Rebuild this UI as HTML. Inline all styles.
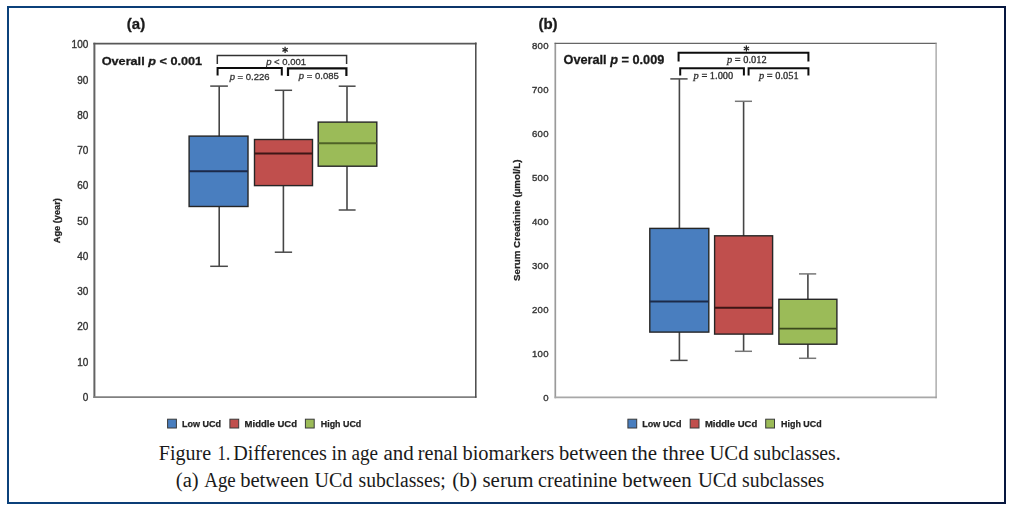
<!DOCTYPE html>
<html>
<head>
<meta charset="utf-8">
<title>Figure 1</title>
<style>
html, body { margin: 0; padding: 0; background: #ffffff; }
body { width: 1015px; height: 511px; position: relative; overflow: hidden; font-family: "Liberation Sans", sans-serif; }
#frame {
  position: absolute; left: 7px; top: 6px; width: 995px; height: 494px;
  border: 2px solid #0e3a74;
  border-image: linear-gradient(to right, #0b417b 0%, #0c3468 50%, #07173f 100%) 1;
}
#charts { position: absolute; left: 0; top: 0; }
</style>
</head>
<body>
<div id="frame"></div>
<svg id="charts" width="1015" height="511" viewBox="0 0 1015 511">
<defs><filter id="soft" x="-2%" y="-2%" width="104%" height="104%"><feGaussianBlur stdDeviation="0.45"/></filter></defs>
<g filter="url(#soft)">
<!-- chart a frame -->
<line x1="94.4" y1="42.7" x2="94.4" y2="398" stroke="#646464" stroke-width="2"/>
<line x1="93.4" y1="397.1" x2="476.5" y2="397.1" stroke="#808080" stroke-width="1.8"/>
<line x1="93.4" y1="43.6" x2="476.5" y2="43.6" stroke="#585858" stroke-width="1.8"/>
<line x1="475.8" y1="42.6" x2="475.8" y2="397.8" stroke="#4a4a4a" stroke-width="1.5"/>
<text x="88.3" y="400.9" text-anchor="end" font-family='"Liberation Sans", sans-serif' font-size="10" letter-spacing="0" fill="#333" stroke="#333" stroke-width="0.35">0</text>
<text x="88.3" y="365.6" text-anchor="end" font-family='"Liberation Sans", sans-serif' font-size="10" letter-spacing="0" fill="#333" stroke="#333" stroke-width="0.35">10</text>
<text x="88.3" y="330.4" text-anchor="end" font-family='"Liberation Sans", sans-serif' font-size="10" letter-spacing="0" fill="#333" stroke="#333" stroke-width="0.35">20</text>
<text x="88.3" y="295.1" text-anchor="end" font-family='"Liberation Sans", sans-serif' font-size="10" letter-spacing="0" fill="#333" stroke="#333" stroke-width="0.35">30</text>
<text x="88.3" y="259.9" text-anchor="end" font-family='"Liberation Sans", sans-serif' font-size="10" letter-spacing="0" fill="#333" stroke="#333" stroke-width="0.35">40</text>
<text x="88.3" y="224.6" text-anchor="end" font-family='"Liberation Sans", sans-serif' font-size="10" letter-spacing="0" fill="#333" stroke="#333" stroke-width="0.35">50</text>
<text x="88.3" y="189.3" text-anchor="end" font-family='"Liberation Sans", sans-serif' font-size="10" letter-spacing="0" fill="#333" stroke="#333" stroke-width="0.35">60</text>
<text x="88.3" y="154.1" text-anchor="end" font-family='"Liberation Sans", sans-serif' font-size="10" letter-spacing="0" fill="#333" stroke="#333" stroke-width="0.35">70</text>
<text x="88.3" y="118.8" text-anchor="end" font-family='"Liberation Sans", sans-serif' font-size="10" letter-spacing="0" fill="#333" stroke="#333" stroke-width="0.35">80</text>
<text x="88.3" y="83.6" text-anchor="end" font-family='"Liberation Sans", sans-serif' font-size="10" letter-spacing="0" fill="#333" stroke="#333" stroke-width="0.35">90</text>
<text x="88.3" y="48.3" text-anchor="end" font-family='"Liberation Sans", sans-serif' font-size="10" letter-spacing="0" fill="#333" stroke="#333" stroke-width="0.35">100</text>
<text transform="translate(59.5 220.7) rotate(-90)" text-anchor="middle" font-family='"Liberation Sans", sans-serif' font-size="9.2" font-weight="bold" fill="#222" stroke="#222" stroke-width="0.25">Age (year)</text>
<text x="126.8" y="28.8" font-family='"Liberation Sans", sans-serif' font-size="15" font-weight="bold" fill="#1a1a1a" stroke="#1a1a1a" stroke-width="0.3">(a)</text>
<text x="101.7" y="64.8" font-family='"Liberation Sans", sans-serif' font-size="11.8" font-weight="bold" fill="#1a1a1a" stroke="#1a1a1a" stroke-width="0.3" textLength="100.4" lengthAdjust="spacingAndGlyphs">Overall <tspan font-style="italic">p</tspan> &lt; 0.001</text>
<line x1="219.2" y1="86.1" x2="219.2" y2="266.3" stroke="#444" stroke-width="1.6"/>
<line x1="210.2" y1="86.1" x2="227.9" y2="86.1" stroke="#4a4a4a" stroke-width="1.5"/>
<line x1="210.2" y1="266.3" x2="227.9" y2="266.3" stroke="#4a4a4a" stroke-width="1.5"/>
<rect x="189.1" y="136.1" width="58.90" height="70.40" fill="#4a7ebf" stroke="#262626" stroke-width="1.4"/>
<line x1="189.1" y1="171.2" x2="248.0" y2="171.2" stroke="#1c2a4a" stroke-width="1.9"/>
<line x1="283.4" y1="90.3" x2="283.4" y2="252.2" stroke="#444" stroke-width="1.6"/>
<line x1="274.8" y1="90.3" x2="292.1" y2="90.3" stroke="#4a4a4a" stroke-width="1.5"/>
<line x1="274.8" y1="252.2" x2="292.1" y2="252.2" stroke="#4a4a4a" stroke-width="1.5"/>
<rect x="254.5" y="139.5" width="58.00" height="46.10" fill="#c0504d" stroke="#262626" stroke-width="1.4"/>
<line x1="254.5" y1="153.5" x2="312.5" y2="153.5" stroke="#3d1414" stroke-width="1.9"/>
<line x1="347.0" y1="86.2" x2="347.0" y2="210.0" stroke="#444" stroke-width="1.6"/>
<line x1="338.7" y1="86.2" x2="355.6" y2="86.2" stroke="#4a4a4a" stroke-width="1.5"/>
<line x1="338.7" y1="210.0" x2="355.6" y2="210.0" stroke="#4a4a4a" stroke-width="1.5"/>
<rect x="318.2" y="122.1" width="58.60" height="44.10" fill="#9bbb59" stroke="#262626" stroke-width="1.4"/>
<line x1="318.2" y1="143.2" x2="376.8" y2="143.2" stroke="#4f6228" stroke-width="1.9"/>
<path d="M217.3 64.0 V55.6 H346.6 V64.0" fill="none" stroke="#333" stroke-width="1.5" stroke-linejoin="miter"/>
<path d="M217.6 75.6 V68.0 H281.8 V75.6" fill="none" stroke="#111" stroke-width="2" stroke-linejoin="miter"/>
<path d="M288.0 76.0 V68.4 H346.4 V76.0" fill="none" stroke="#111" stroke-width="2.2" stroke-linejoin="miter"/>
<line x1="285.10" y1="46.70" x2="285.10" y2="52.90" stroke="#222" stroke-width="1.25"/>
<line x1="282.42" y1="48.25" x2="287.78" y2="51.35" stroke="#222" stroke-width="1.25"/>
<line x1="287.78" y1="48.25" x2="282.42" y2="51.35" stroke="#222" stroke-width="1.25"/>
<text x="286.1" y="65.4" text-anchor="middle" font-family='"Liberation Sans", sans-serif' font-size="9.5" fill="#333" stroke="#333" stroke-width="0.3"><tspan font-style="italic">p</tspan> &lt; 0.001</text>
<text x="249.6" y="79.9" text-anchor="middle" font-family='"Liberation Sans", sans-serif' font-size="9.5" fill="#333" stroke="#333" stroke-width="0.3"><tspan font-style="italic">p</tspan> = 0.226</text>
<text x="318.8" y="79.2" text-anchor="middle" font-family='"Liberation Sans", sans-serif' font-size="9.5" fill="#333" stroke="#333" stroke-width="0.3"><tspan font-style="italic">p</tspan> = 0.085</text>
<rect x="167.6" y="419.2" width="8.8" height="8.8" fill="#4a7ebf" stroke="#3a3a3a" stroke-width="1"/>
<text x="182.0" y="427.1" font-family='"Liberation Sans", sans-serif' font-size="9.2" font-weight="bold" fill="#222" stroke="#222" stroke-width="0.25" textLength="39.1" lengthAdjust="spacingAndGlyphs">Low UCd</text>
<rect x="229.9" y="419.2" width="8.8" height="8.8" fill="#c0504d" stroke="#3a3a3a" stroke-width="1"/>
<text x="244.6" y="427.1" font-family='"Liberation Sans", sans-serif' font-size="9.2" font-weight="bold" fill="#222" stroke="#222" stroke-width="0.25" textLength="52.4" lengthAdjust="spacingAndGlyphs">Middle UCd</text>
<rect x="305.4" y="419.2" width="8.8" height="8.8" fill="#9bbb59" stroke="#3a3a3a" stroke-width="1"/>
<text x="320.8" y="427.1" font-family='"Liberation Sans", sans-serif' font-size="9.2" font-weight="bold" fill="#222" stroke="#222" stroke-width="0.25" textLength="40.5" lengthAdjust="spacingAndGlyphs">High UCd</text>
<!-- chart b frame -->
<line x1="555.3" y1="42.8" x2="555.3" y2="398.2" stroke="#9a9a9a" stroke-width="1.7"/>
<line x1="554.6" y1="397.4" x2="936.6" y2="397.4" stroke="#a8a8a8" stroke-width="1.8"/>
<line x1="554.6" y1="43.4" x2="936.6" y2="43.4" stroke="#666" stroke-width="1.2"/>
<line x1="936.1" y1="42.8" x2="936.1" y2="398.2" stroke="#999" stroke-width="1.2"/>
<text x="548.7" y="400.8" text-anchor="end" font-family='"Liberation Sans", sans-serif' font-size="9.6" letter-spacing="0.2" fill="#333" stroke="#333" stroke-width="0.35">0</text>
<text x="548.7" y="356.8" text-anchor="end" font-family='"Liberation Sans", sans-serif' font-size="9.6" letter-spacing="0.2" fill="#333" stroke="#333" stroke-width="0.35">100</text>
<text x="548.7" y="312.8" text-anchor="end" font-family='"Liberation Sans", sans-serif' font-size="9.6" letter-spacing="0.2" fill="#333" stroke="#333" stroke-width="0.35">200</text>
<text x="548.7" y="268.8" text-anchor="end" font-family='"Liberation Sans", sans-serif' font-size="9.6" letter-spacing="0.2" fill="#333" stroke="#333" stroke-width="0.35">300</text>
<text x="548.7" y="224.8" text-anchor="end" font-family='"Liberation Sans", sans-serif' font-size="9.6" letter-spacing="0.2" fill="#333" stroke="#333" stroke-width="0.35">400</text>
<text x="548.7" y="180.8" text-anchor="end" font-family='"Liberation Sans", sans-serif' font-size="9.6" letter-spacing="0.2" fill="#333" stroke="#333" stroke-width="0.35">500</text>
<text x="548.7" y="136.8" text-anchor="end" font-family='"Liberation Sans", sans-serif' font-size="9.6" letter-spacing="0.2" fill="#333" stroke="#333" stroke-width="0.35">600</text>
<text x="548.7" y="92.8" text-anchor="end" font-family='"Liberation Sans", sans-serif' font-size="9.6" letter-spacing="0.2" fill="#333" stroke="#333" stroke-width="0.35">700</text>
<text x="548.7" y="48.8" text-anchor="end" font-family='"Liberation Sans", sans-serif' font-size="9.6" letter-spacing="0.2" fill="#333" stroke="#333" stroke-width="0.35">800</text>
<text transform="translate(520.3 220.2) rotate(-90)" text-anchor="middle" font-family='"Liberation Sans", sans-serif' font-size="9.4" font-weight="bold" fill="#222" stroke="#222" stroke-width="0.25" textLength="121.4" lengthAdjust="spacingAndGlyphs">Serum Creatinine (µmol/L)</text>
<text x="538.4" y="28.9" font-family='"Liberation Sans", sans-serif' font-size="15" font-weight="bold" fill="#1a1a1a" stroke="#1a1a1a" stroke-width="0.3">(b)</text>
<text x="563.5" y="63.6" font-family='"Liberation Sans", sans-serif' font-size="13" font-weight="bold" fill="#1a1a1a" stroke="#1a1a1a" stroke-width="0.3" textLength="100.8" lengthAdjust="spacingAndGlyphs">Overall <tspan font-style="italic">p</tspan> = 0.009</text>
<line x1="679.4" y1="78.9" x2="679.4" y2="360.4" stroke="#444" stroke-width="1.6"/>
<line x1="670.3" y1="78.9" x2="687.6" y2="78.9" stroke="#4a4a4a" stroke-width="1.5"/>
<line x1="670.3" y1="360.4" x2="687.6" y2="360.4" stroke="#4a4a4a" stroke-width="1.5"/>
<rect x="649.8" y="228.4" width="59.00" height="103.70" fill="#4a7ebf" stroke="#262626" stroke-width="1.4"/>
<line x1="649.8" y1="301.5" x2="708.8" y2="301.5" stroke="#1c2a4a" stroke-width="1.9"/>
<line x1="743.6" y1="101.3" x2="743.6" y2="351.3" stroke="#444" stroke-width="1.6"/>
<line x1="734.9" y1="101.3" x2="752.0" y2="101.3" stroke="#777" stroke-width="1.5"/>
<line x1="734.9" y1="351.3" x2="752.0" y2="351.3" stroke="#777" stroke-width="1.5"/>
<rect x="714.6" y="235.8" width="58.00" height="98.30" fill="#c0504d" stroke="#262626" stroke-width="1.4"/>
<line x1="714.6" y1="307.7" x2="772.6" y2="307.7" stroke="#3d1414" stroke-width="1.9"/>
<line x1="807.9" y1="273.9" x2="807.9" y2="358.3" stroke="#444" stroke-width="1.6"/>
<line x1="799.0" y1="273.9" x2="816.2" y2="273.9" stroke="#777" stroke-width="1.5"/>
<line x1="799.0" y1="358.3" x2="816.2" y2="358.3" stroke="#777" stroke-width="1.5"/>
<rect x="778.9" y="299.3" width="58.00" height="44.90" fill="#9bbb59" stroke="#262626" stroke-width="1.4"/>
<line x1="778.9" y1="328.6" x2="836.9" y2="328.6" stroke="#3b4a1e" stroke-width="1.9"/>
<path d="M678.6 61.5 V52.8 H808.4 V61.5" fill="none" stroke="#111" stroke-width="2" stroke-linejoin="miter"/>
<path d="M680.2 75.6 V68.3 H743.9 V75.6" fill="none" stroke="#111" stroke-width="2" stroke-linejoin="miter"/>
<path d="M748.6 75.6 V68.3 H808.4 V75.6" fill="none" stroke="#111" stroke-width="2" stroke-linejoin="miter"/>
<line x1="746.40" y1="45.40" x2="746.40" y2="51.60" stroke="#222" stroke-width="1.25"/>
<line x1="743.72" y1="46.95" x2="749.08" y2="50.05" stroke="#222" stroke-width="1.25"/>
<line x1="749.08" y1="46.95" x2="743.72" y2="50.05" stroke="#222" stroke-width="1.25"/>
<text x="746.8" y="62.6" text-anchor="middle" font-family='"Liberation Serif", serif' font-size="10.4" fill="#2e2e2e" stroke="#2e2e2e" stroke-width="0.3"><tspan font-style="italic">p</tspan> = 0.012</text>
<text x="713.4" y="78.7" text-anchor="middle" font-family='"Liberation Serif", serif' font-size="10.4" fill="#2e2e2e" stroke="#2e2e2e" stroke-width="0.3"><tspan font-style="italic">p</tspan> = 1.000</text>
<text x="778.8" y="78.7" text-anchor="middle" font-family='"Liberation Serif", serif' font-size="10.4" fill="#2e2e2e" stroke="#2e2e2e" stroke-width="0.3"><tspan font-style="italic">p</tspan> = 0.051</text>
<rect x="627.9" y="419.2" width="8.8" height="8.8" fill="#4a7ebf" stroke="#3a3a3a" stroke-width="1"/>
<text x="642.3" y="427.1" font-family='"Liberation Sans", sans-serif' font-size="9.2" font-weight="bold" fill="#222" stroke="#222" stroke-width="0.25" textLength="39.1" lengthAdjust="spacingAndGlyphs">Low UCd</text>
<rect x="690.2" y="419.2" width="8.8" height="8.8" fill="#c0504d" stroke="#3a3a3a" stroke-width="1"/>
<text x="704.9" y="427.1" font-family='"Liberation Sans", sans-serif' font-size="9.2" font-weight="bold" fill="#222" stroke="#222" stroke-width="0.25" textLength="52.4" lengthAdjust="spacingAndGlyphs">Middle UCd</text>
<rect x="765.7" y="419.2" width="8.8" height="8.8" fill="#9bbb59" stroke="#3a3a3a" stroke-width="1"/>
<text x="781.1" y="427.1" font-family='"Liberation Sans", sans-serif' font-size="9.2" font-weight="bold" fill="#222" stroke="#222" stroke-width="0.25" textLength="40.5" lengthAdjust="spacingAndGlyphs">High UCd</text>
</g>
<text x="158.8" y="459.8" font-family='"Liberation Serif", serif' font-size="20.5" fill="#1a1a1a" textLength="52.3" lengthAdjust="spacingAndGlyphs">Figure</text>
<text x="217.5" y="459.8" font-family='"Liberation Serif", serif' font-size="20.5" fill="#1a1a1a" textLength="12.6" lengthAdjust="spacingAndGlyphs">1.</text>
<text x="233.3" y="459.8" font-family='"Liberation Serif", serif' font-size="20.5" fill="#1a1a1a" textLength="93.6" lengthAdjust="spacingAndGlyphs">Differences</text>
<text x="331.5" y="459.8" font-family='"Liberation Serif", serif' font-size="20.5" fill="#1a1a1a" textLength="15.4" lengthAdjust="spacingAndGlyphs">in</text>
<text x="351.4" y="459.8" font-family='"Liberation Serif", serif' font-size="20.5" fill="#1a1a1a" textLength="26.6" lengthAdjust="spacingAndGlyphs">age</text>
<text x="383.5" y="459.8" font-family='"Liberation Serif", serif' font-size="20.5" fill="#1a1a1a" textLength="30.4" lengthAdjust="spacingAndGlyphs">and</text>
<text x="417.8" y="459.8" font-family='"Liberation Serif", serif' font-size="20.5" fill="#1a1a1a" textLength="40.4" lengthAdjust="spacingAndGlyphs">renal</text>
<text x="462.5" y="459.8" font-family='"Liberation Serif", serif' font-size="20.5" fill="#1a1a1a" textLength="91.8" lengthAdjust="spacingAndGlyphs">biomarkers</text>
<text x="559.1" y="459.8" font-family='"Liberation Serif", serif' font-size="20.5" fill="#1a1a1a" textLength="68.4" lengthAdjust="spacingAndGlyphs">between</text>
<text x="631.5" y="459.8" font-family='"Liberation Serif", serif' font-size="20.5" fill="#1a1a1a" textLength="25.6" lengthAdjust="spacingAndGlyphs">the</text>
<text x="662.5" y="459.8" font-family='"Liberation Serif", serif' font-size="20.5" fill="#1a1a1a" textLength="42.0" lengthAdjust="spacingAndGlyphs">three</text>
<text x="709.4" y="459.8" font-family='"Liberation Serif", serif' font-size="20.5" fill="#1a1a1a" textLength="39.1" lengthAdjust="spacingAndGlyphs">UCd</text>
<text x="753.6" y="459.8" font-family='"Liberation Serif", serif' font-size="20.5" fill="#1a1a1a" textLength="87.1" lengthAdjust="spacingAndGlyphs">subclasses.</text>
<text x="175.8" y="487.4" font-family='"Liberation Serif", serif' font-size="20.5" fill="#1a1a1a" textLength="22.9" lengthAdjust="spacingAndGlyphs">(a)</text>
<text x="204.2" y="487.4" font-family='"Liberation Serif", serif' font-size="20.5" fill="#1a1a1a" textLength="31.6" lengthAdjust="spacingAndGlyphs">Age</text>
<text x="240.2" y="487.4" font-family='"Liberation Serif", serif' font-size="20.5" fill="#1a1a1a" textLength="68.6" lengthAdjust="spacingAndGlyphs">between</text>
<text x="314.6" y="487.4" font-family='"Liberation Serif", serif' font-size="20.5" fill="#1a1a1a" textLength="37.9" lengthAdjust="spacingAndGlyphs">UCd</text>
<text x="358.6" y="487.4" font-family='"Liberation Serif", serif' font-size="20.5" fill="#1a1a1a" textLength="87.2" lengthAdjust="spacingAndGlyphs">subclasses;</text>
<text x="452.3" y="487.4" font-family='"Liberation Serif", serif' font-size="20.5" fill="#1a1a1a" textLength="24.7" lengthAdjust="spacingAndGlyphs">(b)</text>
<text x="482.5" y="487.4" font-family='"Liberation Serif", serif' font-size="20.5" fill="#1a1a1a" textLength="51.0" lengthAdjust="spacingAndGlyphs">serum</text>
<text x="538.1" y="487.4" font-family='"Liberation Serif", serif' font-size="20.5" fill="#1a1a1a" textLength="79.1" lengthAdjust="spacingAndGlyphs">creatinine</text>
<text x="622.2" y="487.4" font-family='"Liberation Serif", serif' font-size="20.5" fill="#1a1a1a" textLength="69.6" lengthAdjust="spacingAndGlyphs">between</text>
<text x="697.9" y="487.4" font-family='"Liberation Serif", serif' font-size="20.5" fill="#1a1a1a" textLength="38.9" lengthAdjust="spacingAndGlyphs">UCd</text>
<text x="742.1" y="487.4" font-family='"Liberation Serif", serif' font-size="20.5" fill="#1a1a1a" textLength="82.2" lengthAdjust="spacingAndGlyphs">subclasses</text>
</svg>
</body>
</html>
